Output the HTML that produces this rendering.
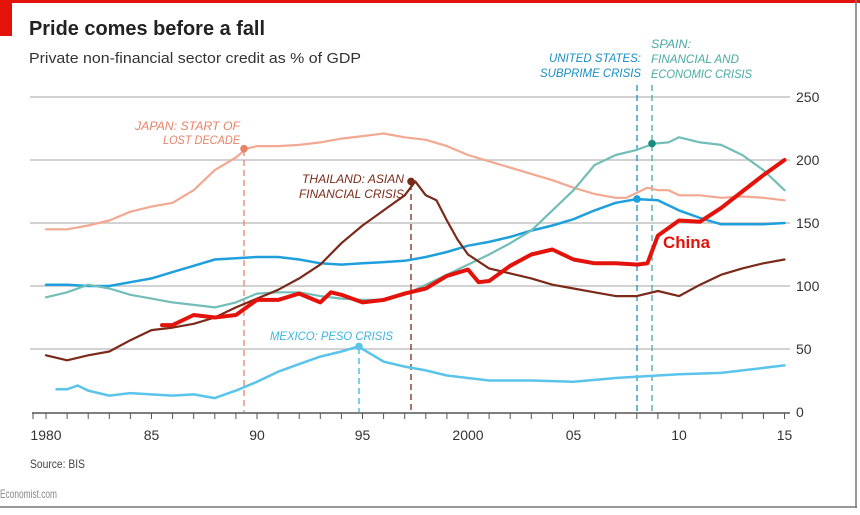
<!DOCTYPE html>
<html><head><meta charset="utf-8"><style>
body{margin:0;background:#fff;width:860px;height:510px;overflow:hidden}
text{font-family:"Liberation Sans",sans-serif}
</style></head><body>
<svg id="s" width="860" height="510" xmlns="http://www.w3.org/2000/svg">
<rect x="0" y="0" width="860" height="3" fill="#e3120b"/>
<rect x="0" y="0" width="12" height="36" fill="#e3120b"/>
<line x1="856" y1="0" x2="856" y2="508" stroke="#777" stroke-width="1.5"/>
<line x1="0" y1="507" x2="857" y2="507" stroke="#777" stroke-width="1.5"/>
<text x="29" y="35" font-size="20" font-weight="bold" fill="#222" textLength="236" lengthAdjust="spacingAndGlyphs">Pride comes before a fall</text>
<text x="29" y="63" font-size="14.5" fill="#333" textLength="332" lengthAdjust="spacingAndGlyphs">Private non-financial sector credit as % of GDP</text>
<g id="grid"></g>
<g id="lines"></g>
<text x="30" y="468" font-size="12" fill="#444" textLength="55" lengthAdjust="spacingAndGlyphs">Source: BIS</text>
<text x="0" y="498" font-size="12" fill="#888" textLength="57" lengthAdjust="spacingAndGlyphs">Economist.com</text>
<g font-size="12" font-style="italic">
<text x="240" y="130" text-anchor="end" fill="#e8836a" textLength="105" lengthAdjust="spacingAndGlyphs">JAPAN: START OF</text>
<text x="240" y="144" text-anchor="end" fill="#e8836a" textLength="77" lengthAdjust="spacingAndGlyphs">LOST DECADE</text>
<text x="404" y="183" text-anchor="end" fill="#7b2a1a" textLength="102" lengthAdjust="spacingAndGlyphs">THAILAND: ASIAN</text>
<text x="404" y="198" text-anchor="end" fill="#7b2a1a" textLength="105" lengthAdjust="spacingAndGlyphs">FINANCIAL CRISIS</text>
<text x="270" y="340" fill="#3bb4e0" textLength="123" lengthAdjust="spacingAndGlyphs">MEXICO: PESO CRISIS</text>
<text x="641" y="62" text-anchor="end" fill="#1a8fc4" textLength="92" lengthAdjust="spacingAndGlyphs">UNITED STATES:</text>
<text x="641" y="77" text-anchor="end" fill="#1a8fc4" textLength="101" lengthAdjust="spacingAndGlyphs">SUBPRIME CRISIS</text>
<text x="651" y="48" fill="#4aa9a3" textLength="40" lengthAdjust="spacingAndGlyphs">SPAIN:</text>
<text x="651" y="63" fill="#4aa9a3" textLength="88" lengthAdjust="spacingAndGlyphs">FINANCIAL AND</text>
<text x="651" y="78" fill="#4aa9a3" textLength="101" lengthAdjust="spacingAndGlyphs">ECONOMIC CRISIS</text>
</g>
<text x="663" y="248" font-size="17" font-weight="bold" fill="#e3120b" textLength="47" lengthAdjust="spacingAndGlyphs">China</text>
</svg>
<script>
var NS="http://www.w3.org/2000/svg";
function X(t){return 468+21.1*(t-2000);}
function Y(v){return 412-1.26*v;}
function el(p,tag,a){var e=document.createElementNS(NS,tag);for(var k in a)e.setAttribute(k,a[k]);p.appendChild(e);return e;}
var g=document.getElementById('grid'),L=document.getElementById('lines');
[50,100,150,200,250].forEach(function(v){el(g,'line',{x1:30,x2:790,y1:Y(v),y2:Y(v),stroke:'#c4c4c4','stroke-width':1.5});
var t=el(g,'text',{x:796,y:Y(v)+5,'font-size':14,fill:'#333'});t.textContent=v;});
var t0=el(g,'text',{x:796,y:Y(0)+5,'font-size':14,fill:'#333'});t0.textContent='0';
el(g,'line',{x1:32,x2:790,y1:413,y2:413,stroke:'#555','stroke-width':1.5});
for(var yr=1980;yr<=2015;yr++){el(g,'line',{x1:X(yr),x2:X(yr),y1:413,y2:419,stroke:'#555','stroke-width':1});}
el(g,'line',{x1:33,x2:33,y1:413,y2:419,stroke:'#555'});
[['1980',1980],['85',1985],['90',1990],['95',1995],['2000',2000],['05',2005],['10',2010],['15',2015]].forEach(function(a){
var t=el(g,'text',{x:X(a[1]),y:440,'font-size':14,fill:'#333','text-anchor':'middle'});t.textContent=a[0];});
function vline(x,y1,c){el(L,'line',{x1:x,x2:x,y1:y1,y2:412,stroke:c,'stroke-width':1.3,'stroke-dasharray':'6,4'});}
vline(244,150,'#e8836a');vline(359,348,'#3bb4e0');vline(411,184,'#7b2a1a');vline(637,85,'#1a8fc4');vline(652,85,'#4aa9a3');
function series(d,c,w){var s='';for(var i=0;i<d.length;i+=2){s+=(i?'L':'M')+X(d[i]).toFixed(1)+','+Y(d[i+1]).toFixed(1);}
el(L,'path',{d:s,fill:'none',stroke:c,'stroke-width':w,'stroke-linejoin':'round','stroke-linecap':'round'});}
series([1980,145,1981,145,1982,148,1983,152,1984,159,1985,163,1986,166,1987,176,1988,192,1989,202,1989.5,209,1990,211,1991,211,1992,212,1993,214,1994,217,1995,219,1996,221,1997,218,1998,216,1999,211,2000,204,2001,199,2002,194,2003,189,2004,184,2005,178,2006,173,2007,170,2007.5,170,2008,174,2008.5,178,2009,176,2009.5,176,2010,172,2011,172,2012,170,2013,171,2014,170,2015,168],'#f2a891',2.2);
series([1980,101,1981,101,1982,100,1983,100,1984,103,1985,106,1986,111,1987,116,1988,121,1989,122,1990,123,1991,123,1992,121,1993,118,1994,117,1995,118,1996,119,1997,120,1998,123,1999,127,2000,132,2001,135,2002,139,2003,144,2004,148,2005,153,2006,160,2007,166,2008,169,2009,168,2010,160,2011,154,2012,149,2013,149,2014,149,2015,150],'#1fa0dc',2.5);
series([1980,91,1981,95,1982,101,1983,98,1984,93,1985,90,1986,87,1987,85,1988,83,1989,87,1990,94,1991,95,1992,95,1993,92,1994,90,1995,89,1996,89,1997,93,1998,101,1999,109,2000,117,2001,125,2002,134,2003,144,2004,160,2005,176,2006,196,2007,204,2008,208,2008.8,213,2009.5,214,2010,218,2011,214,2012,212,2013,204,2014,192,2015,176],'#72bdb8',2.2);
series([1980,45,1981,41,1982,45,1983,48,1984,57,1985,65,1986,67,1987,70,1988,75,1989,83,1990,90,1991,97,1992,106,1993,117,1994,134,1995,148,1996,160,1997,172,1997.5,183,1998,172,1998.5,168,1999,152,1999.5,137,2000,125,2001,114,2002,110,2003,106,2004,101,2005,98,2006,95,2007,92,2008,92,2009,96,2010,92,2011,101,2012,109,2013,114,2014,118,2015,121],'#7b2a1a',2.2);
series([1980.5,18,1981,18,1981.5,21,1982,17,1983,13,1984,15,1985,14,1986,13,1987,14,1988,11,1989,17,1990,24,1991,32,1992,38,1993,44,1994,48,1994.8,52,1995.5,45,1996,40,1997,36,1998,33,1999,29,2000,27,2001,25,2003,25,2005,24,2007,27,2008,28,2010,30,2012,31,2015,37],'#5bc4ea',2.5);
series([1985.5,69,1986,69,1987,77,1988,75,1989,77,1990,89,1991,89,1992,94,1993,87,1993.5,95,1994,93,1995,87,1996,89,1997,94,1998,98,1999,108,2000,113,2000.5,103,2001,104,2002,116,2003,125,2004,129,2005,121,2006,118,2007,118,2008,117,2008.5,118,2009,140,2010,152,2011,151,2012,162,2013,175,2014,188,2015,200],'#e3120b',4);
function dot(x,v,c){el(L,'circle',{cx:x,cy:Y(v),r:3.8,fill:c});}
dot(244,209,'#e8836a');dot(411,183,'#7b2a1a');dot(359,52,'#5bc4ea');dot(637,169,'#1fa0dc');dot(652,213,'#1a8a80');
</script>
</body></html>
